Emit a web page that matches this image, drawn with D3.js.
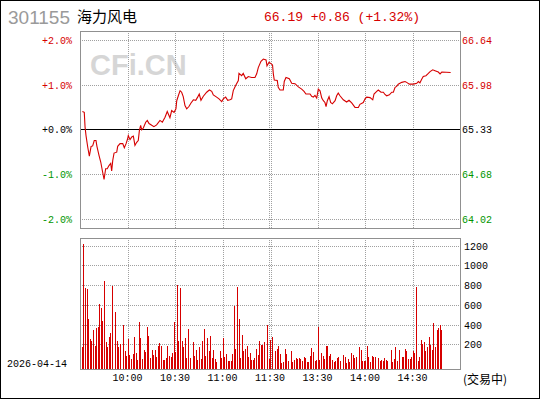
<!DOCTYPE html>
<html lang="zh">
<head>
<meta charset="utf-8">
<script src="https://d3js.org/d3.v7.min.js"></script>
<style>
  body { margin: 0; background: #fff; }
  svg { display: block; }
  .mono { font-family: "Liberation Mono", "DejaVu Sans Mono", monospace; font-size: 10px; }
  .grid { stroke: #a0a0a0; stroke-width: 1; stroke-dasharray: 1,1; fill: none; }
  .box { stroke: #909090; stroke-width: 1; fill: none; }
</style>
</head>
<body>
<svg width="540" height="400"></svg>
<script>
// quote header
var code = "301155", name = "海力风电";
var prevClose = 65.33, lastPrice = 66.19, change = 0.86, changePct = 1.32;
var tradeDate = "2026-04-14", status = "(交易中)";

// left / right axis labels of the price panel
var pctTicks = [2, 1, 0, -1, -2];
var pctLabels = ["+2.0%", "+1.0%", "+0.0%", "-1.0%", "-2.0%"];
var priceLabels = ["66.64", "65.98", "65.33", "64.68", "64.02"];

// time axis: minutes from 9:30 (120 = 11:30 / 13:00)
var timeTicks = [30, 60, 90, 120, 150, 180, 210];
var timeLabels = ["10:00", "10:30", "11:00", "11:30", "13:30", "14:00", "14:30"];

var volTicks = [200, 400, 600, 800, 1000, 1200];

// [minute, % change vs prev close]
var pricePoints = [
  [1.5,0.41],[2.7,0.39],[3.2,0.06],[3.8,-0.13],[4.9,-0.39],[5.9,-0.59],[7.0,-0.37],[8.0,-0.36],
  [9.0,-0.24],[10.1,-0.24],[10.7,-0.37],[12.0,-0.57],[13.1,-0.72],[14.1,-0.91],[15.2,-1.11],
  [16.2,-0.87],[17.2,-0.87],[18.3,-0.80],[19.4,-0.75],[20.0,-0.92],[20.7,-0.68],[21.5,-0.52],
  [23.2,-0.50],[23.8,-0.37],[25.3,-0.31],[27.0,-0.31],[28.0,-0.40],[29.1,-0.31],[30.1,-0.20],
  [30.5,-0.13],[31.6,-0.22],[32.7,-0.16],[33.7,-0.14],[34.7,-0.35],[35.8,-0.28],[36.8,-0.24],
  [37.5,-0.02],[38.3,0.10],[39.0,0.00],[40.0,0.04],[41.5,0.17],[42.5,0.21],[43.6,0.14],
  [45.3,0.10],[46.7,0.07],[48.4,0.11],[50.5,0.21],[52.0,0.17],[53.7,0.28],[55.1,0.41],
  [56.8,0.27],[57.9,0.43],[59.4,0.39],[60.6,0.47],[61.1,0.65],[62.1,0.76],[63.2,0.875],
  [64.2,0.84],[65.2,0.74],[66.3,0.54],[67.4,0.47],[68.8,0.52],[70.1,0.60],[71.6,0.67],
  [73.1,0.66],[74.3,0.73],[75.3,0.80],[76.4,0.66],[77.9,0.75],[80.0,0.84],[81.7,0.89],
  [83.2,0.86],[84.2,0.78],[86.3,0.73],[87.8,0.69],[89.5,0.63],[90.5,0.69],[92.0,0.73],
  [93.3,0.66],[94.7,0.67],[95.8,0.69],[96.8,0.875],[98.3,0.99],[100.0,1.10],[100.4,1.26],
  [102.1,1.21],[103.1,1.26],[104.7,1.14],[106.3,1.19],[108.4,1.17],[110.5,1.17],[111.6,1.25],
  [112.6,1.39],[114.3,1.53],[115.8,1.58],[117.5,1.56],[118.1,1.43],[119.4,1.51],[120.6,1.48],
  [121.6,1.45],[122.1,1.25],[122.7,1.11],[124.6,1.10],[125.2,0.95],[126.3,0.89],[128.4,0.89],
  [129.0,1.08],[130.1,1.17],[132.2,1.14],[133.7,1.04],[135.8,1.03],[137.9,0.96],[140.0,0.91],
  [141.5,0.86],[142.7,0.80],[145.3,0.80],[146.3,0.75],[147.4,0.73],[148.4,0.77],[149.5,0.71],
  [150.5,0.91],[151.6,0.87],[152.7,0.71],[153.7,0.65],[154.7,0.61],[155.4,0.52],[156.2,0.65],
  [157.3,0.74],[158.3,0.61],[159.4,0.58],[161.1,0.65],[162.1,0.76],[163.1,0.82],[164.2,0.76],
  [166.3,0.67],[168.4,0.62],[169.9,0.66],[171.6,0.60],[173.7,0.50],[175.8,0.50],[176.8,0.57],
  [178.9,0.61],[180.0,0.69],[181.1,0.73],[183.2,0.72],[184.9,0.67],[185.7,0.80],[187.4,0.86],
  [188.4,0.89],[190.1,0.84],[191.6,0.84],[192.6,0.79],[193.7,0.76],[195.4,0.78],[196.9,0.84],
  [197.9,0.84],[199.0,0.95],[200.0,0.97],[201.0,1.02],[203.2,1.06],[205.3,1.08],[206.3,1.06],
  [208.0,1.02],[210.5,1.02],[212.7,1.04],[213.7,1.08],[214.7,1.05],[215.8,1.13],[216.8,1.19],
  [218.5,1.21],[220.0,1.26],[221.1,1.30],[222.8,1.34],[224.2,1.32],[226.3,1.29],[227.4,1.25],
  [228.5,1.29],[234.1,1.28]
];

// per-minute volume (index = minute), 0 = no bar
var volumes = [0,
  177,1219,778,768,460,254,234,349,186,369,
  379,610,573,441,847,227,177,278,319,796,
  0,532,237,177,204,0,400,136,85,261,
  95,51,105,278,115,44,430,268,51,146,
  125,379,288,65,146,95,146,75,186,217,
  186,44,44,65,186,85,75,115,430,125,
  806,237,775,237,177,268,65,359,65,0,
  227,85,146,44,177,55,237,359,85,268,
  136,289,65,146,55,24,0,136,65,268,
  75,106,34,34,34,106,596,156,788,460,
  65,298,136,156,187,75,116,45,45,65,
  156,95,238,197,197,228,0,400,55,248,
  278,0,136,156,187,106,14,24,156,106,
  34,0,136,24,45,65,55,65,55,34,
  75,65,24,24,85,166,126,34,45,382,
  45,116,85,55,187,187,85,106,45,24,
  34,65,75,34,0,95,75,14,55,24,
  116,95,65,75,0,177,146,34,34,34,
  187,75,24,85,75,75,0,65,34,45,
  34,65,45,34,0,146,24,55,177,34,
  146,0,75,75,156,136,55,55,75,136,
  116,788,34,75,248,207,228,136,177,278,
  197,146,420,177,349,369,400,349
];

var RED = "#d60000", GREEN = "#009600";

var svg = d3.select("svg");

var left = 80, right = 460;
var pTop = 31, pBot = 228, vTop = 238, vBot = 369;

var x = d3.scaleLinear().domain([0, 240]).range([left, right]);
var y = d3.scaleLinear().domain([-2, 2]).range([219.3, 40.3]);
var yv = d3.scaleLinear().domain([0, 1200]).range([364.4, 246.3]);

function px(v) { return Math.floor(v) + 0.5; }

// outer frame
svg.append("rect").attr("x", 0.5).attr("y", 0.5).attr("width", 539).attr("height", 398)
    .attr("fill", "none").attr("stroke", "#000");

// header
svg.append("text").attr("x", 8).attr("y", 24)
    .style("font-family", "Liberation Sans, Arial, sans-serif").style("font-size", "19px")
    .attr("fill", "#9a9a9a").text(code);
svg.append("text").attr("x", 77).attr("y", 22)
    .style("font-family", "Noto Sans CJK SC, sans-serif").style("font-size", "15px")
    .attr("fill", "#000").text(name);
svg.append("text").attr("class", "mono").attr("x", 264).attr("y", 21)
    .style("font-size", "13px").attr("fill", RED)
    .text(lastPrice.toFixed(2) + " +" + change.toFixed(2) + " (+" + changePct.toFixed(2) + "%)");

// watermark
svg.append("text").attr("x", 90).attr("y", 75)
    .style("font-family", "Liberation Sans, Arial, sans-serif").style("font-size", "29px")
    .style("font-weight", "bold").attr("fill", "#d6d6d6").text("CFi.CN");

function vgrid(top, bot) {
  timeTicks.forEach(function(t) {
    var xs = t === 120 ? [Math.round(x(t)) - 0.5, Math.round(x(t)) + 1.5] : [px(Math.round(x(t)))];
    xs.forEach(function(xx) {
      svg.append("line").attr("class", "grid")
          .attr("x1", xx).attr("x2", xx).attr("y1", top).attr("y2", bot);
    });
  });
}

// ---- price panel
vgrid(pTop, pBot);
pctTicks.forEach(function(p, i) {
  var yy = px(y(p));
  svg.append("line").attr("class", p === 0 ? null : "grid")
      .attr("x1", left).attr("x2", right).attr("y1", yy).attr("y2", yy)
      .attr("stroke", p === 0 ? "#000" : null);
  var col = p > 0 ? RED : (p < 0 ? GREEN : "#000");
  svg.append("text").attr("class", "mono").attr("x", 72).attr("y", yy + 3.5)
      .attr("text-anchor", "end").attr("fill", col).text(pctLabels[i]);
  svg.append("text").attr("class", "mono").attr("x", 462).attr("y", yy + 3.5)
      .attr("fill", col).text(priceLabels[i]);
});

var line = d3.line()
    .x(function(d) { return x(d[0]); })
    .y(function(d) { return y(d[1]); });

svg.append("path").datum(pricePoints)
    .attr("d", line).attr("fill", "none").attr("stroke", RED).attr("stroke-width", 1.1);

svg.append("rect").attr("class", "box")
    .attr("x", left + 0.5).attr("y", pTop + 0.5).attr("width", right - left).attr("height", pBot - pTop);

// ---- volume panel
vgrid(vTop, vBot);
volTicks.forEach(function(v) {
  var yy = px(yv(v));
  svg.append("line").attr("class", "grid")
      .attr("x1", left).attr("x2", right).attr("y1", yy).attr("y2", yy);
  svg.append("text").attr("class", "mono").attr("x", 464).attr("y", yy + 3)
      .attr("fill", "#000").text(v);
});

svg.append("g").selectAll("rect")
    .data(volumes.map(function(v, i) { return [i, v]; }).filter(function(d) { return d[1] > 0; }))
  .enter().append("rect")
    .attr("x", function(d) { return Math.floor(x(d[0] + 0.5)); })
    .attr("width", 1)
    .attr("y", function(d) { return Math.round(yv(d[1])); })
    .attr("height", function(d) { return vBot - Math.round(yv(d[1])); })
    .attr("fill", RED);

svg.append("rect").attr("class", "box")
    .attr("x", left + 0.5).attr("y", vTop + 0.5).attr("width", right - left).attr("height", vBot - vTop);

// time labels
timeTicks.forEach(function(t, i) {
  svg.append("text").attr("class", "mono").attr("x", x(t)).attr("y", 381)
      .attr("text-anchor", "middle").attr("fill", "#000").text(timeLabels[i]);
});

svg.append("text").attr("class", "mono").attr("x", 7).attr("y", 367)
    .attr("fill", "#000").text(tradeDate);
svg.append("text").attr("x", 463).attr("y", 384)
    .style("font-family", "Noto Sans CJK SC, sans-serif").style("font-size", "12px")
    .attr("fill", "#000").text(status);
</script>
</body>
</html>
